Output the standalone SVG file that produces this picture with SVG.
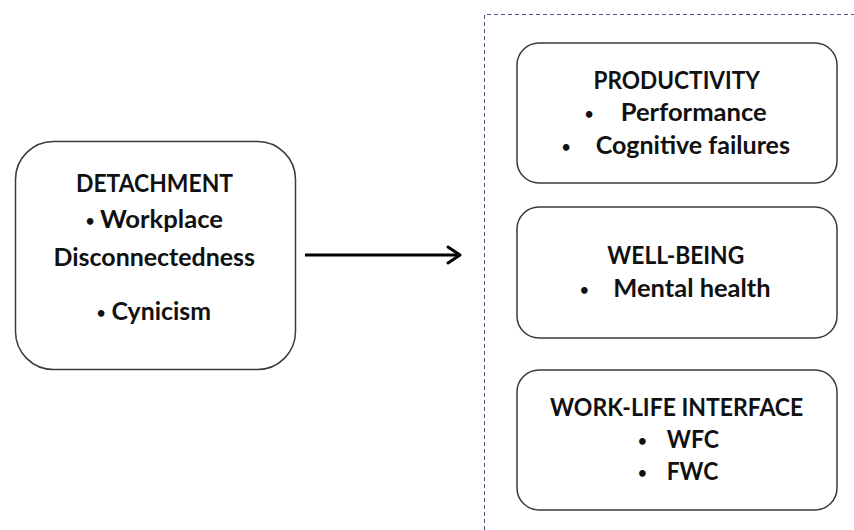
<svg xmlns="http://www.w3.org/2000/svg" width="854" height="530" viewBox="0 0 854 530">
<defs>
<style>
.box{fill:#fff;stroke:#3a3a3a;stroke-width:1.5}
.t{font-family:Lato,"Open Sans",sans-serif;font-weight:bold;font-size:24px;fill:#111}
.b{font-family:Lato,"Open Sans",sans-serif;font-weight:bold;font-size:15px;fill:#111;text-anchor:middle}
.conn{stroke:#000;stroke-width:3;fill:none}
</style>
<marker id="arr" viewBox="0 0 16 20" markerWidth="16" markerHeight="20" refX="14" refY="10" orient="auto" markerUnits="userSpaceOnUse">
<path d="M2,2 L14,10 L2,18" fill="none" stroke="#000" stroke-width="3" stroke-linecap="round" stroke-linejoin="round"/>
</marker>
</defs>
<rect width="854" height="530" fill="#fff"/>
<g id="outcomes-frame">
<path d="M484.5,530 L484.5,14.5 L854,14.5" fill="none" stroke="#4a5a7e" stroke-width="1" stroke-dasharray="4,3"/>
</g>
<g id="detachment">
<rect class="box" x="15.5" y="141.5" width="280" height="228" rx="38"/>
<text class="t" x="76" y="192" textLength="157" lengthAdjust="spacingAndGlyphs">DETACHMENT</text>
<text class="b" x="90" y="226">•</text>
<text class="t" x="100" y="228" textLength="123" lengthAdjust="spacingAndGlyphs">Workplace</text>
<text class="t" x="53.5" y="266" textLength="201.5" lengthAdjust="spacingAndGlyphs">Disconnectedness</text>
<text class="b" x="101" y="318">•</text>
<text class="t" x="111.5" y="320" textLength="99.5" lengthAdjust="spacingAndGlyphs">Cynicism</text>
</g>
<g id="productivity">
<rect class="box" x="517" y="43" width="320" height="140" rx="22"/>
<text class="t" x="593.5" y="89" textLength="166.5" lengthAdjust="spacingAndGlyphs">PRODUCTIVITY</text>
<text class="b" x="589" y="119">•</text>
<text class="t" x="620.7" y="121" textLength="146" lengthAdjust="spacingAndGlyphs">Performance</text>
<text class="b" x="566" y="152">•</text>
<text class="t" x="595.7" y="154" textLength="194.3" lengthAdjust="spacingAndGlyphs">Cognitive failures</text>
</g>
<g id="well-being">
<rect class="box" x="517" y="207" width="320" height="131" rx="22"/>
<text class="t" x="607.3" y="264" textLength="137" lengthAdjust="spacingAndGlyphs">WELL-BEING</text>
<text class="b" x="584.3" y="295">•</text>
<text class="t" x="613.3" y="297" textLength="157.4" lengthAdjust="spacingAndGlyphs">Mental health</text>
</g>
<g id="work-life-interface">
<rect class="box" x="517" y="370" width="320" height="140" rx="22"/>
<text class="t" x="550" y="416" textLength="253.3" lengthAdjust="spacingAndGlyphs">WORK-LIFE INTERFACE</text>
<text class="b" x="642.3" y="446">•</text>
<text class="t" x="666.7" y="448" textLength="52.3" lengthAdjust="spacingAndGlyphs">WFC</text>
<text class="b" x="642.3" y="478">•</text>
<text class="t" x="666.7" y="480" textLength="51.6" lengthAdjust="spacingAndGlyphs">FWC</text>
</g>
<g id="connectors">
<line class="conn" x1="305" y1="255" x2="460" y2="255" marker-end="url(#arr)"/>
</g>
</svg>
